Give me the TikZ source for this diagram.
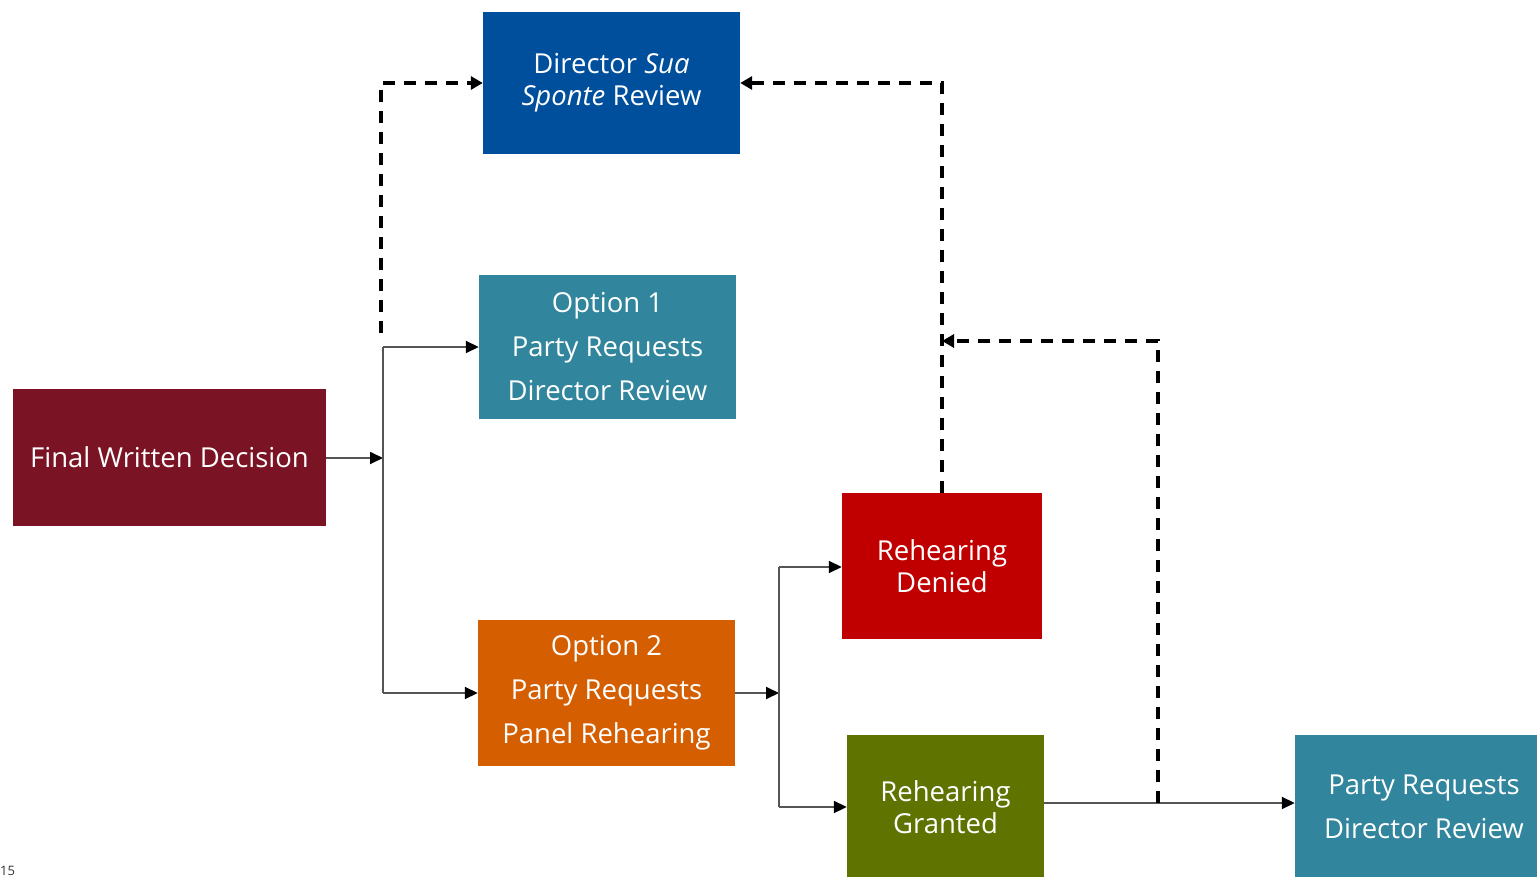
\documentclass[tikz,border=0pt]{standalone}
\usepackage{fontspec}
\setmainfont{Open Sans}
\usetikzlibrary{arrows.meta}
\definecolor{cdir}{HTML}{004F9C}
\definecolor{cteal}{HTML}{31859C}
\definecolor{cmaroon}{HTML}{7A1323}
\definecolor{cred}{HTML}{C00000}
\definecolor{corange}{HTML}{D55F00}
\definecolor{colive}{HTML}{5E7300}
\definecolor{cline}{HTML}{555555}
\begin{document}
\begin{tikzpicture}[x=1pt,y=-1pt,
  box/.style={inner sep=0pt, align=center, text=white, font=\fontsize{27.5}{32}\selectfont},
  wide/.style={font=\fontsize{27.5}{44}\selectfont},
  solidarrow/.style={draw=cline, line width=1.8pt, -{Triangle[length=13pt,width=12pt,color=black]}},
  solidline/.style={draw=cline, line width=1.8pt},
  dasharrow/.style={draw=black, line width=3.6pt, dash pattern=on 12pt off 9pt, -{Triangle[length=12pt,width=13pt]}}]
\useasboundingbox (0,0) rectangle (1537,877);
\clip (0,0) rectangle (1537,877);
\fill[white] (0,0) rectangle (1537,877);

\node[box, fill=cdir, minimum width=257pt, minimum height=142pt] (dir) at (611.5,83) {Director \textit{Sua}\\\textit{Sponte} Review};
\node[box, wide, fill=cteal, minimum width=257pt, minimum height=144pt] (opt1) at (607.5,347) {Option 1\\Party Requests\\Director Review};
\node[box, fill=cmaroon, minimum width=313pt, minimum height=137pt] (fwd) at (169.5,457.5) {Final Written Decision};
\node[box, fill=cred, minimum width=200pt, minimum height=146pt] (denied) at (942,566) {Rehearing\\Denied};
\node[box, wide, fill=corange, minimum width=257pt, minimum height=146pt] (opt2) at (606.5,693) {Option 2\\Party Requests\\Panel Rehearing};
\node[box, fill=colive, minimum width=197pt, minimum height=144pt] (granted) at (945.5,807) {Rehearing\\Granted};
\node[box, wide, fill=cteal, minimum width=258pt, minimum height=144pt] (party) at (1424,807) {Party Requests\\Director Review};
\node[anchor=south west, inner sep=0pt, font=\fontsize{13}{13}\selectfont, text=black!80] (pagenum) at (0,876) {15};

\coordinate (ja) at (383,458);
\coordinate (jtop) at (383,347);
\coordinate (jbot) at (383,693);
\coordinate (jdash) at (381,333);
\coordinate (kb) at (779,693);
\coordinate (ktop) at (779,567);
\coordinate (kbot) at (779,807);
\coordinate (ga) at (1044,803);
\coordinate (gb) at (1158,803);
\coordinate (gc) at (1158,341);
\coordinate (gd) at (942,341);

% solid connectors
\draw[solidarrow] (fwd.east |- ja) -- (ja);
\draw[solidline] (jtop) -- (jbot);
\draw[solidarrow] (jtop) -- (opt1.west);
\draw[solidarrow] (jbot) -- (opt2.west);
\draw[solidarrow] (opt2.east |- kb) -- (kb);
\draw[solidline] (ktop) -- (kbot);
\draw[solidarrow] (ktop) -- (denied.west |- ktop);
\draw[solidarrow] (kbot) -- (granted.west |- kbot);
\draw[solidarrow] (ga) -- (party.west |- ga);

% dashed connectors
\draw[dasharrow] (jdash) |- (dir.west);
\draw[dasharrow] (denied.north) |- (dir.east);
\draw[dasharrow] (gb) -- (gc) -- (gd);
\end{tikzpicture}
\end{document}
